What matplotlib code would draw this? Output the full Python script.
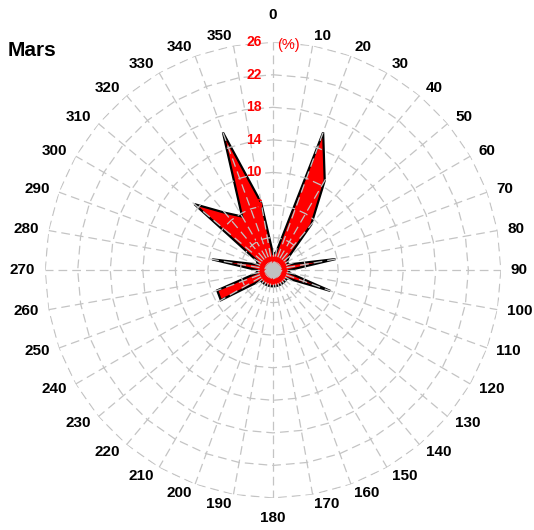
import matplotlib
matplotlib.use("Agg")
import matplotlib.pyplot as plt
import numpy as np

plt.rcParams['font.family'] = ['Liberation Sans', 'DejaVu Sans']

# direction (degrés) et fréquence (%)
directions = list(range(0, 360, 10))
frequences = [0.0, 0.2, 16.0, 10.7, 5.3, 0.5, 0.0, 0.0, 5.8, 0.0,
              0.0, 5.5, 0.0, 0.0, 0.0, 0.0, 0.0, 0.0, 0.0, 0.0,
              0.0, 0.0, 0.0, 0.0, 5.4, 5.3, 0.0, 0.0, 5.6, 0.0,
              0.3, 10.6, 7.2, 5.6, 16.0, 6.4]
anneaux = [2, 6, 10, 14, 18, 22, 26]
etiquettes_r = ["2", "6", "10", "14", "18", "22", "26"]
r_min, r_max = -2, 26
mois = "Mars"

fig = plt.figure(figsize=(5.34, 5.30), dpi=100)
ax = fig.add_axes([0.0843, 0.0604, 0.854, 0.860], projection='polar')
ax.set_theta_zero_location('N')
ax.set_theta_direction(-1)
ax.set_ylim(r_min, r_max)
ax.grid(False)
ax.set_xticks([])
ax.set_yticks([])
ax.spines['polar'].set_visible(False)

theta = np.deg2rad(directions + [directions[0]])
valeurs = frequences + [frequences[0]]
ax.fill(theta, valeurs, facecolor='red', edgecolor='black', linewidth=1.6, zorder=2)

# grille polygonale en tirets
gris = '#c4c4c4'
for r in anneaux:
    ax.plot(theta, [r] * len(theta), color=gris, linestyle=(0, (7, 4)),
            linewidth=0.9, zorder=3)
for d in directions:
    ax.plot([np.deg2rad(d)] * 2, [r_min, r_max], color=gris,
            linestyle=(0, (7, 4)), linewidth=0.9, zorder=3)

# cercle central
ax.scatter([0], [r_min], s=95, color='#c0c0c0', zorder=5)

# étiquettes radiales
for r, lab in zip(anneaux, etiquettes_r):
    ax.annotate(lab, xy=(0, r), xytext=(-8, 0), textcoords='offset points',
                ha='right', va='center', color='red', fontsize=10,
                fontweight='bold', zorder=6)
ax.annotate("(%)", xy=(0, r_max), xytext=(3, -2), textcoords='offset points',
            ha='left', va='center', color='red', fontsize=10.5, zorder=6)

# étiquettes d'angle
for d in directions:
    if d == 0:
        ax.text(0, 29.3, "0", ha='center', va='center', fontsize=11,
                fontweight='bold')
    elif d == 180:
        ax.text(np.pi, 28.5, "180", ha='center', va='center', fontsize=11,
                fontweight='bold')
    else:
        ax.text(np.deg2rad(d), 27.2, str(d), ha='left' if d < 180 else 'right',
                va='center', fontsize=11, fontweight='bold')

fig.text(0.015, 0.904, mois, fontsize=15, fontweight='bold', ha='left', va='center')

fig.savefig("out.png", dpi=100)
